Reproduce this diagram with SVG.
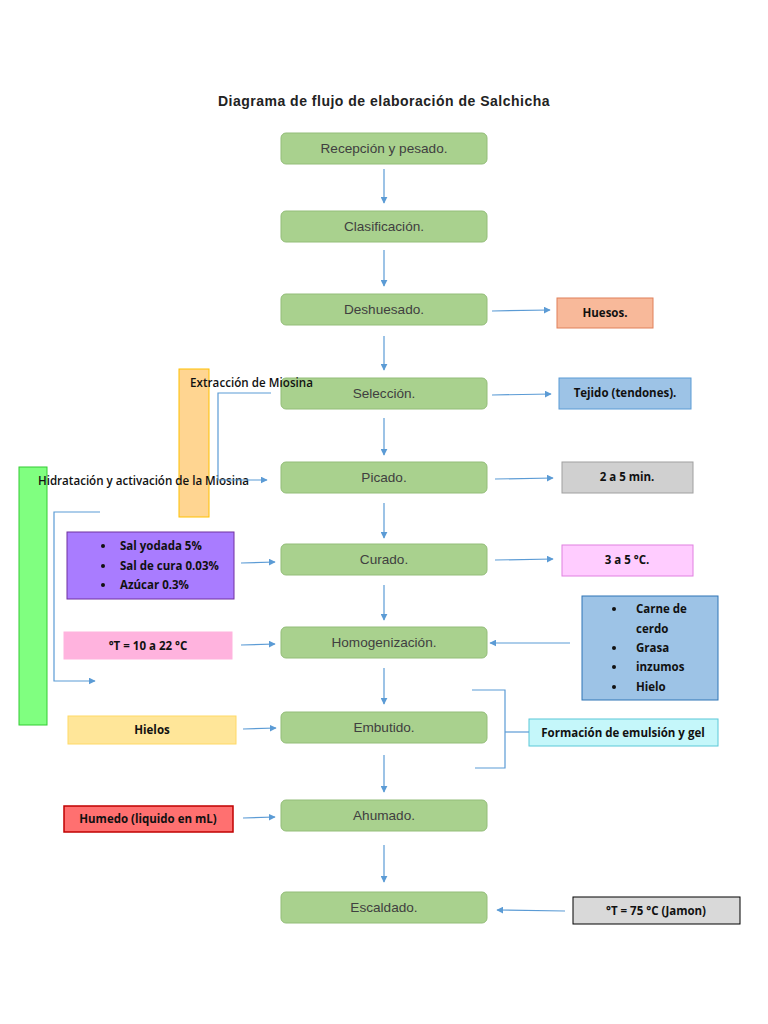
<svg xmlns="http://www.w3.org/2000/svg" width="768" height="1024" viewBox="0 0 768 1024">
<style>
.step rect{fill:#A9D18E;stroke:#93BD78;stroke-width:1}
.step text{font-family:"Liberation Sans",Arial,sans-serif;font-size:13.6px;fill:#404040;text-anchor:middle}
.lbl{font-family:"Open Sans","Liberation Sans",sans-serif;font-weight:bold;font-size:11.5px;fill:#111;text-anchor:middle}
.lt{font-family:"Open Sans","Liberation Sans",sans-serif;font-size:11.5px;fill:#111}
.ml{font-family:"Open Sans","Liberation Sans",sans-serif;font-size:11.6px;font-weight:600;fill:#111}
.ln{fill:none;stroke:#5B9BD5;stroke-width:1.2}
</style>
<defs>
<marker id="ah" viewBox="0 0 10 10" refX="9" refY="5" markerWidth="7" markerHeight="7" markerUnits="userSpaceOnUse" orient="auto"><path d="M0,0 L10,5 L0,10 z" fill="#5B9BD5"/></marker>
</defs>
<rect width="768" height="1024" fill="#fff"/>
<text x="384" y="106" font-family="Liberation Sans,Arial,sans-serif" font-weight="bold" font-size="14" letter-spacing="0.5" fill="#222" text-anchor="middle">Diagrama de flujo de elaboración de Salchicha</text>

<g id="side-left">
<g id="orange-bar"><rect x="179" y="369" width="30" height="148" fill="#FFD591" stroke="#FFC000"/></g>
<g id="green-bar"><rect x="19" y="467" width="28" height="258" fill="#80FF80" stroke="#33CC33"/></g>
<g id="sales"><rect x="67" y="532" width="167" height="67" fill="#A97CFF" stroke="#7030A0"/>
<circle cx="103" cy="546" r="2" fill="#111"/><circle cx="103" cy="566" r="2" fill="#111"/><circle cx="103" cy="585" r="2" fill="#111"/>
<text class="lt" x="120" y="550" font-weight="bold">Sal yodada 5%</text>
<text class="lt" x="120" y="570" font-weight="bold">Sal de cura 0.03%</text>
<text class="lt" x="120" y="589" font-weight="bold">Azúcar 0.3%</text></g>
<g id="temp1"><rect x="64" y="632" width="168" height="27" fill="#FFB3DE" stroke="#FFB3DE"/><text class="lbl" x="148" y="650">°T = 10 a 22 °C</text></g>
<g id="hielos"><rect x="68" y="716" width="168" height="28" fill="#FFE699" stroke="#FFD966"/><text class="lbl" x="152" y="734">Hielos</text></g>
<g id="humedo"><rect x="64" y="806" width="169" height="26" fill="#FF7070" stroke="#C00000" stroke-width="1.5"/><text class="lbl" x="148" y="823">Humedo (liquido en mL)</text></g>
</g>

<g id="steps">
<g id="s1" class="step"><rect x="281" y="133" width="206" height="31" rx="5"/><text x="384" y="153">Recepción y pesado.</text></g>
<g id="s2" class="step"><rect x="281" y="211" width="206" height="31" rx="5"/><text x="384" y="231">Clasificación.</text></g>
<g id="s3" class="step"><rect x="281" y="294" width="206" height="31" rx="5"/><text x="384" y="314">Deshuesado.</text></g>
<g id="s4" class="step"><rect x="281" y="378" width="206" height="31" rx="5"/><text x="384" y="398">Selección.</text></g>
<g id="s5" class="step"><rect x="281" y="462" width="206" height="31" rx="5"/><text x="384" y="482">Picado.</text></g>
<g id="s6" class="step"><rect x="281" y="544" width="206" height="31" rx="5"/><text x="384" y="564">Curado.</text></g>
<g id="s7" class="step"><rect x="281" y="627" width="206" height="31" rx="5"/><text x="384" y="647">Homogenización.</text></g>
<g id="s8" class="step"><rect x="281" y="712" width="206" height="31" rx="5"/><text x="384" y="732">Embutido.</text></g>
<g id="s9" class="step"><rect x="281" y="800" width="206" height="31" rx="5"/><text x="384" y="820">Ahumado.</text></g>
<g id="s10" class="step"><rect x="281" y="892" width="206" height="31" rx="5"/><text x="384" y="912">Escaldado.</text></g>
</g>

<g id="side-right">
<g id="huesos"><rect x="557" y="298" width="96" height="30" fill="#F8B99A" stroke="#E0805A"/><text class="lbl" x="605" y="317">Huesos.</text></g>
<g id="tejido"><rect x="559" y="378" width="132" height="31" fill="#9DC3E6" stroke="#5B9BD5"/><text class="lbl" x="625" y="397">Tejido (tendones).</text></g>
<g id="tiempo"><rect x="562" y="462" width="131" height="31" fill="#D0D0D0" stroke="#A0A0A0"/><text class="lbl" x="627" y="481">2 a 5 min.</text></g>
<g id="temp2"><rect x="562" y="545" width="131" height="31" fill="#FFCCFF" stroke="#E080E0"/><text class="lbl" x="627" y="564">3 a 5 °C.</text></g>
<g id="ingredientes"><rect x="582" y="596" width="136" height="104" fill="#9DC3E6" stroke="#2E75B6"/>
<circle cx="614" cy="609" r="2" fill="#111"/><circle cx="614" cy="648" r="2" fill="#111"/><circle cx="614" cy="667" r="2" fill="#111"/><circle cx="614" cy="687" r="2" fill="#111"/>
<text class="lt" x="636" y="613" font-weight="bold">Carne de</text>
<text class="lt" x="636" y="633" font-weight="bold">cerdo</text>
<text class="lt" x="636" y="652" font-weight="bold">Grasa</text>
<text class="lt" x="636" y="671" font-weight="bold">inzumos</text>
<text class="lt" x="636" y="691" font-weight="bold">Hielo</text></g>
<g id="emulsion"><rect x="529" y="719" width="189" height="27" fill="#C5F7FA" stroke="#5BC8D8"/><text class="lbl" x="623" y="737">Formación de emulsión y gel</text></g>
<g id="temp3"><rect x="573" y="897" width="167" height="27" fill="#D9D9D9" stroke="#000"/><text class="lbl" x="656" y="915">°T = 75 °C (Jamon)</text></g>
</g>

<g id="labels">
<text class="ml" x="190" y="387" textLength="123" lengthAdjust="spacing">Extracción de Miosina</text>
<text class="ml" x="38" y="485" textLength="211" lengthAdjust="spacing">Hidratación y activación de la Miosina</text>
</g>

<g id="connectors">
<line class="ln" x1="384" y1="169" x2="384" y2="203" marker-end="url(#ah)"/>
<line class="ln" x1="384" y1="250" x2="384" y2="286" marker-end="url(#ah)"/>
<line class="ln" x1="384" y1="336" x2="384" y2="370" marker-end="url(#ah)"/>
<line class="ln" x1="384" y1="418" x2="384" y2="455" marker-end="url(#ah)"/>
<line class="ln" x1="384" y1="503" x2="384" y2="538" marker-end="url(#ah)"/>
<line class="ln" x1="384" y1="585" x2="384" y2="620" marker-end="url(#ah)"/>
<line class="ln" x1="384" y1="668" x2="384" y2="704" marker-end="url(#ah)"/>
<line class="ln" x1="384" y1="755" x2="384" y2="792" marker-end="url(#ah)"/>
<line class="ln" x1="384" y1="845" x2="384" y2="882" marker-end="url(#ah)"/>
<line class="ln" x1="492" y1="311" x2="550" y2="310" marker-end="url(#ah)"/>
<line class="ln" x1="492" y1="395" x2="551" y2="394" marker-end="url(#ah)"/>
<line class="ln" x1="495" y1="479" x2="553" y2="478" marker-end="url(#ah)"/>
<line class="ln" x1="495" y1="560" x2="553" y2="559" marker-end="url(#ah)"/>
<line class="ln" x1="570" y1="643" x2="490" y2="643" marker-end="url(#ah)"/>
<line class="ln" x1="565" y1="911" x2="497" y2="910" marker-end="url(#ah)"/>
<line class="ln" x1="241" y1="563" x2="275" y2="562" marker-end="url(#ah)"/>
<line class="ln" x1="241" y1="645" x2="275" y2="644" marker-end="url(#ah)"/>
<line class="ln" x1="243" y1="729" x2="276" y2="728" marker-end="url(#ah)"/>
<line class="ln" x1="243" y1="818" x2="275" y2="817" marker-end="url(#ah)"/>
<polyline class="ln" points="271,393 218,393 218,480 267,480" marker-end="url(#ah)"/>
<polyline class="ln" points="100,512 54,512 54,681 95,681" marker-end="url(#ah)"/>
<polyline class="ln" points="472,690 505,690 505,768 475,768"/>
<line class="ln" x1="505" y1="732" x2="529" y2="732"/>
</g>
</svg>
